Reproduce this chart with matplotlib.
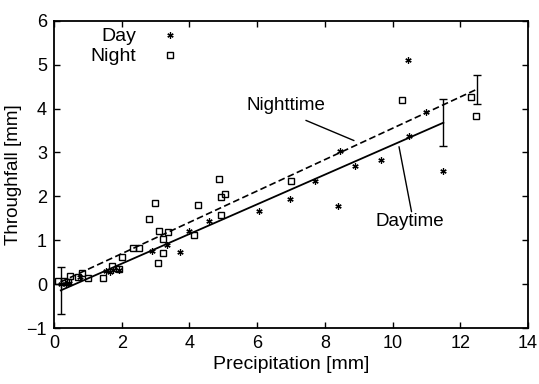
import matplotlib
matplotlib.use("Agg")
import matplotlib.pyplot as plt
import numpy as np

plt.rcParams['font.family'] = ['Liberation Sans', 'DejaVu Sans']

# Daytime observations (asterisks)
day_x = [0.20, 0.35, 0.45, 0.77, 1.55, 1.65, 1.75, 1.92, 2.88, 3.35, 3.72,
         4.00, 4.59, 6.06, 6.97, 7.71, 8.40, 8.45, 8.89, 9.65, 10.47, 10.49,
         10.98, 11.50]
day_y = [0.00, 0.00, 0.03, 0.17, 0.30, 0.28, 0.32, 0.33, 0.75, 0.89, 0.74,
         1.20, 1.43, 1.67, 1.94, 2.34, 1.77, 3.04, 2.69, 2.82, 5.11, 3.38,
         3.92, 2.58]

# Nighttime observations (open squares)
night_x = [0.13, 0.30, 0.42, 0.47, 0.72, 0.84, 1.01, 1.46, 1.70, 1.92, 2.00,
           2.32, 2.52, 2.82, 2.99, 3.08, 3.10, 3.23, 3.23, 3.38, 4.13, 4.26,
           4.88, 4.92, 4.92, 5.05, 6.99, 10.27, 12.32, 12.47]
night_y = [0.06, 0.06, 0.04, 0.19, 0.17, 0.25, 0.14, 0.14, 0.41, 0.34, 0.61,
           0.83, 0.83, 1.48, 1.85, 0.49, 1.20, 1.03, 0.72, 1.18, 1.12, 1.80,
           2.40, 1.98, 1.58, 2.05, 2.34, 4.20, 4.26, 3.83]

# Regression lines: slope, intercept, x-range, end error (+/-)
day_fit = (0.338, -0.21)
day_range = [0.2, 11.5]
day_err = 0.53
night_fit = (0.357, -0.02)
night_range = [0.2, 12.5]
night_err = 0.33

# Annotation labels and leader lines
night_label_pos = (6.85, 4.06)
night_leader = ((7.44, 3.73), (8.86, 3.27))
day_label_pos = (10.51, 1.42)
day_leader = ((10.56, 1.65), (10.19, 3.13))

x_ticks = [0, 2, 4, 6, 8, 10, 12, 14]
y_ticks = [-1, 0, 1, 2, 3, 4, 5, 6]

fig = plt.figure(figsize=(5.39, 3.84), dpi=100)
ax = fig.add_axes([0.1002, 0.1458, 0.8794, 0.8002])

star = (6, 2, 0)
ax.plot(day_x, day_y, linestyle='none', marker=star, markersize=4.5,
        markeredgewidth=0.9, color='black', label='Day')
ax.plot(night_x, night_y, linestyle='none', marker='s', markersize=5,
        markerfacecolor='none', markeredgecolor='black', markeredgewidth=1.0,
        label='Night')

dx = np.array(day_range)
dy = day_fit[0] * dx + day_fit[1]
ax.plot(dx, dy, color='black', linewidth=1.3)
ax.errorbar(dx, dy, yerr=day_err, fmt='none', ecolor='black', elinewidth=1.0,
            capsize=3, capthick=1.0)

nx = np.array(night_range)
ny = night_fit[0] * nx + night_fit[1]
ax.plot(nx, ny, color='black', linewidth=1.2, linestyle=(0, (4, 2)))
ax.errorbar(nx[1:], ny[1:], yerr=night_err, fmt='none', ecolor='black',
            elinewidth=1.0, capsize=3, capthick=1.0)

ax.annotate('', xy=night_leader[1], xytext=night_leader[0],
            arrowprops=dict(arrowstyle='-', color='black', lw=1.0,
                            shrinkA=0, shrinkB=0))
ax.text(*night_label_pos, 'Nighttime', fontsize=13.5, ha='center', va='center')
ax.annotate('', xy=day_leader[1], xytext=day_leader[0],
            arrowprops=dict(arrowstyle='-', color='black', lw=1.0,
                            shrinkA=0, shrinkB=0))
ax.text(*day_label_pos, 'Daytime', fontsize=13.5, ha='center', va='center')

ax.set_xlim(0, 14)
ax.set_ylim(-1, 6)
ax.set_xticks(x_ticks)
ax.set_yticks(y_ticks)
ax.set_xticklabels([str(t) for t in x_ticks])
ax.set_yticklabels([str(t).replace('-', '\u2212') for t in y_ticks])
ax.tick_params(direction='in', length=4, width=1.0, top=True, right=True,
               labelsize=13, pad=5)
for s in ax.spines.values():
    s.set_linewidth(1.3)

ax.set_xlabel('Precipitation [mm]', fontsize=14, labelpad=3)
ax.set_ylabel('Throughfall [mm]', fontsize=13.5, labelpad=3)

ax.legend(loc='upper left', bbox_to_anchor=(0.052, 1.015), frameon=False,
          markerfirst=False, fontsize=14, handlelength=1.5,
          handletextpad=1.0, labelspacing=0.12, borderaxespad=0.2)

fig.savefig('out.png', dpi=100)
